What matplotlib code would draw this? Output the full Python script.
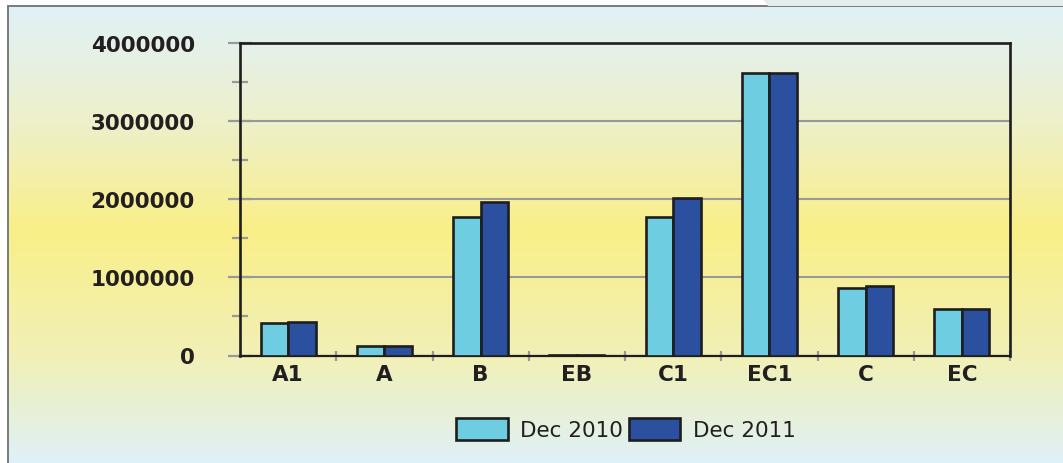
import matplotlib
matplotlib.use("Agg")
import matplotlib.pyplot as plt
import numpy as np
from matplotlib.patches import Rectangle, Polygon

# Data
categories = ["A1", "A", "B", "EB", "C1", "EC1", "C", "EC"]
dec_2010 = [410000, 120000, 1770000, 5000, 1770000, 3620000, 870000, 590000]
dec_2011 = [430000, 120000, 1960000, 5000, 2010000, 3620000, 890000, 590000]
series_names = ["Dec 2010", "Dec 2011"]
yticks = [0, 1000000, 2000000, 3000000, 4000000]

W, H = 1063, 464
fig = plt.figure(figsize=(W / 100, H / 100), dpi=100)
fig.patch.set_facecolor("white")

# Background gradient panel (light blue -> yellow -> light blue)
stops_y = [0, 55, 130, 230, 300, 360, 420, 464]
stops_c = ["#dff1f9", "#e6f1e6", "#eef0c6", "#f9ef88", "#f5efa2", "#f1f0b8", "#e6f0dc", "#dff1f9"]
rgb = np.array([matplotlib.colors.to_rgb(c) for c in stops_c])
yy = np.arange(H)
grad = np.stack([np.interp(yy, stops_y, rgb[:, k]) for k in range(3)], axis=1)
grad = np.repeat(grad[:, None, :], 2, axis=1)

x0, y_top = 8 / W, 1 - 7 / H
bg = fig.add_axes([x0, 0, 1 - x0, y_top], zorder=-2)
bg.imshow(grad[7:], aspect="auto", extent=[0, 1, 0, 1])
bg.set_axis_off()
fig.add_artist(Rectangle((x0, -0.01), 1.1, y_top + 0.01, transform=fig.transFigure,
                         fill=False, edgecolor="#7a7a7a", linewidth=1.4, zorder=-1))
fig.add_artist(Polygon([(763 / W, 1), (1, 1), (1, y_top), (768 / W, y_top)],
                       closed=True, transform=fig.transFigure, facecolor="#e4eeee",
                       edgecolor="none", zorder=-1))

# Main axes
ax = fig.add_axes([240 / W, 1 - 356.5 / H, (1010 - 240) / W, (356.5 - 44) / H])
ax.patch.set_alpha(0)

x = np.arange(len(categories))
width = 0.285
ax.bar(x - width / 2, dec_2010, width, color="#6ecde0", edgecolor="#1e1e1e",
       linewidth=1.9, label=series_names[0], zorder=3)
ax.bar(x + width / 2, dec_2011, width, color="#2b50a0", edgecolor="#1e1e1e",
       linewidth=1.9, label=series_names[1], zorder=3)

ax.set_xlim(-0.5, len(categories) - 0.5)
ax.set_ylim(0, 4000000)

ax.set_yticks(yticks)
ax.set_yticklabels([str(v) for v in yticks], fontsize=15.5, fontweight="bold",
                   color="#231f20", family="DejaVu Sans")
ax.set_yticks(np.arange(500000, 4000000, 1000000), minor=True)
ax.tick_params(axis="y", which="major", direction="inout", length=17, width=1.6,
               color="#999999", pad=24)
ax.tick_params(axis="y", which="minor", direction="inout", length=11.5, width=1.6,
               color="#999999")

ax.set_xticks(x)
ax.set_xticklabels(categories, fontsize=15.5, fontweight="bold",
                   color="#231f20", family="DejaVu Sans")
ax.set_xticks(np.arange(0.5, len(categories), 1), minor=True)
ax.tick_params(axis="x", which="major", length=0, pad=6)
ax.tick_params(axis="x", which="minor", direction="inout", length=7.5, width=1.6,
               color="#999999")

ax.yaxis.grid(True, which="major", color="#999999", linewidth=1.5, zorder=1)
ax.set_axisbelow(True)
for side in ["left", "top", "right", "bottom"]:
    ax.spines[side].set_color("#1e1e1e")
    ax.spines[side].set_linewidth(1.9)
ax.spines["bottom"].set_linewidth(1.6)

leg = ax.legend(loc="center", bbox_to_anchor=(626 / W, 1 - 430 / H),
                bbox_transform=fig.transFigure, ncol=2, frameon=False,
                prop={"family": "DejaVu Sans", "size": 15.5},
                handlelength=2.4, handleheight=1.25, handletextpad=0.6,
                columnspacing=0.25)
for t in leg.get_texts():
    t.set_color("#231f20")

fig.savefig("out.png", dpi=100)
